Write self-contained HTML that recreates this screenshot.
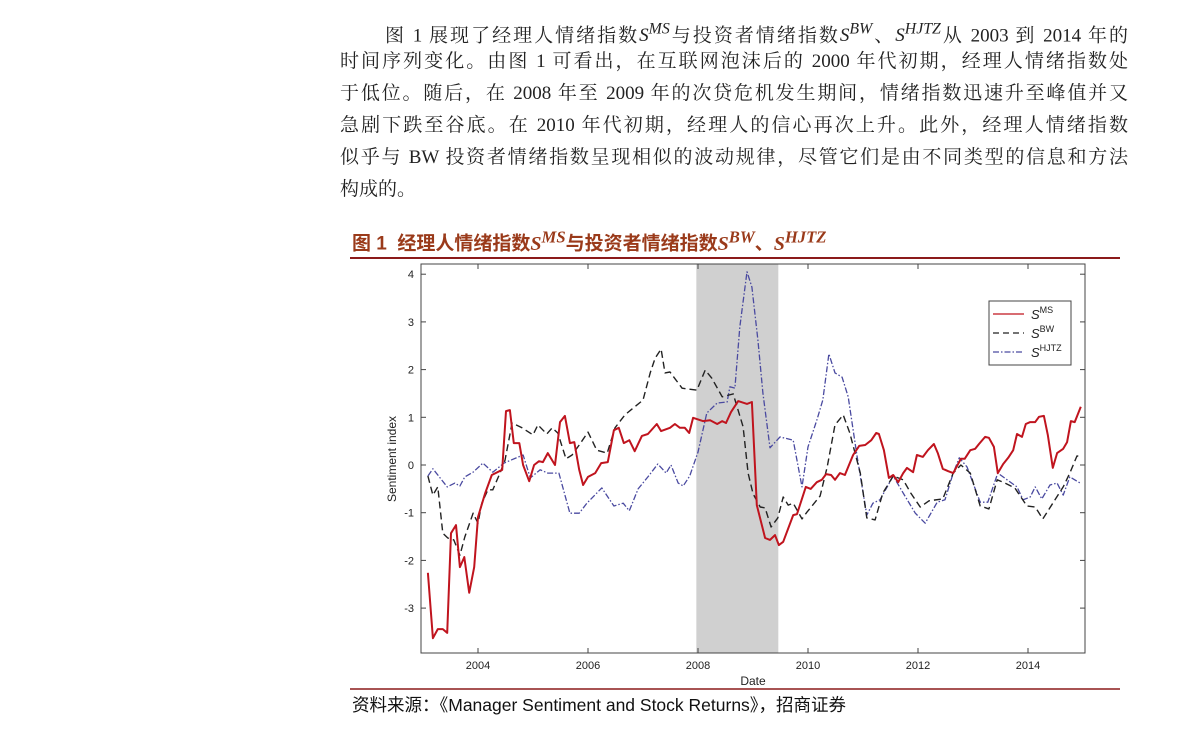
<!DOCTYPE html>
<html><head><meta charset="utf-8">
<style>
body{margin:0;width:1191px;height:732px;background:#fff;position:relative;overflow:hidden;font-family:"Liberation Serif","Noto Serif CJK SC",serif;}
.para{position:absolute;left:340px;top:14px;width:788px;font-size:19px;line-height:32px;color:#222;}
.para div{white-space:nowrap;text-align:justify;text-align-last:justify;height:32px;}
.para div.last{text-align-last:left;}
.para i{font-family:"Liberation Serif",serif;}
.title{position:absolute;left:352px;top:227px;font-size:19px;font-weight:bold;color:#9a3a1a;font-family:"Liberation Sans","Noto Sans CJK SC",sans-serif;white-space:nowrap;}
.title i{font-family:"Liberation Serif",serif;font-size:20px;}
.src{position:absolute;left:352px;top:692px;font-size:17.5px;color:#111;font-family:"Liberation Sans","Noto Sans CJK SC",sans-serif;white-space:nowrap;}
svg{position:absolute;left:0;top:0;}
</style></head><body>
<div class="para">
<div style="padding-left:45px">图 1 展现了经理人情绪指数<i>S<sup>MS</sup></i>与投资者情绪指数<i>S<sup>BW</sup></i>、<i>S<sup>HJTZ</sup></i>从 2003 到 2014 年的</div>
<div>时间序列变化。由图 1 可看出，在互联网泡沫后的 2000 年代初期，经理人情绪指数处</div>
<div>于低位。随后，在 2008 年至 2009 年的次贷危机发生期间，情绪指数迅速升至峰值并又</div>
<div>急剧下跌至谷底。在 2010 年代初期，经理人的信心再次上升。此外，经理人情绪指数</div>
<div>似乎与 BW 投资者情绪指数呈现相似的波动规律，尽管它们是由不同类型的信息和方法</div>
<div class="last">构成的。</div>
</div>
<div class="title">图 1&nbsp; 经理人情绪指数<i>S<sup>MS</sup></i>与投资者情绪指数<i>S<sup>BW</sup></i>、<i>S<sup>HJTZ</sup></i></div>
<div class="src">资料来源：《Manager Sentiment and Stock Returns》，招商证券</div>
<svg id="chart" width="1191" height="732">
<line x1="350" y1="258" x2="1120" y2="258" stroke="#8b1a1a" stroke-width="2"/>
<line x1="350" y1="689" x2="1120" y2="689" stroke="#8b1a1a" stroke-width="1.5"/>
</svg>
<script>
const msX=[2003.09,2003.18,2003.27,2003.36,2003.44,2003.51,2003.6,2003.67,2003.75,2003.84,2003.93,2004.0,2004.13,2004.25,2004.44,2004.51,2004.58,2004.65,2004.75,2004.82,2004.93,2005.02,2005.11,2005.18,2005.27,2005.4,2005.49,2005.58,2005.67,2005.75,2005.84,2005.91,2006.0,2006.13,2006.24,2006.36,2006.47,2006.56,2006.65,2006.75,2006.85,2006.98,2007.09,2007.25,2007.33,2007.49,2007.58,2007.67,2007.76,2007.84,2007.91,2008.09,2008.22,2008.35,2008.44,2008.51,2008.6,2008.73,2008.89,2008.98,2009.07,2009.22,2009.31,2009.4,2009.47,2009.55,2009.73,2009.8,2009.96,2010.05,2010.16,2010.25,2010.33,2010.42,2010.49,2010.58,2010.67,2010.82,2010.93,2011.04,2011.15,2011.24,2011.29,2011.38,2011.47,2011.55,2011.64,2011.73,2011.8,2011.91,2011.98,2012.09,2012.18,2012.29,2012.36,2012.45,2012.55,2012.64,2012.78,2012.85,2012.95,2013.04,2013.11,2013.22,2013.29,2013.38,2013.45,2013.55,2013.64,2013.73,2013.8,2013.89,2013.96,2014.04,2014.13,2014.2,2014.29,2014.36,2014.45,2014.53,2014.64,2014.71,2014.78,2014.85,2014.96];
const msY=[-2.26,-3.63,-3.44,-3.44,-3.52,-1.43,-1.26,-2.14,-1.93,-2.68,-2.14,-1.09,-0.59,-0.21,-0.1,1.13,1.15,0.46,0.46,0.0,-0.34,0,0.08,0.06,0.25,0,0.9,1.03,0.46,0.48,-0.1,-0.42,-0.25,-0.17,0.04,0.06,0.73,0.78,0.46,0.52,0.29,0.61,0.65,0.86,0.71,0.78,0.86,0.78,0.78,0.67,0.99,0.92,0.94,0.86,0.92,0.88,1.11,1.34,1.28,1.32,-0.84,-1.53,-1.57,-1.47,-1.68,-1.61,-1.05,-1.03,-0.46,-0.5,-0.36,-0.31,-0.19,-0.21,-0.31,-0.17,-0.21,0.21,0.4,0.42,0.52,0.67,0.65,0.31,-0.27,-0.21,-0.36,-0.17,-0.06,-0.15,0.21,0.17,0.31,0.44,0.25,-0.08,-0.13,-0.17,0.13,0.13,0.31,0.34,0.44,0.59,0.57,0.38,-0.17,0.02,0.15,0.31,0.65,0.59,0.86,0.9,0.9,1.01,1.03,0.63,-0.06,0.25,0.34,0.48,0.92,0.9,1.22];
const bwX=[2003.09,2003.18,2003.27,2003.36,2003.45,2003.56,2003.67,2003.76,2003.91,2004.0,2004.07,2004.18,2004.27,2004.4,2004.49,2004.62,2004.8,2005.0,2005.09,2005.25,2005.35,2005.45,2005.6,2005.71,2005.84,2006.0,2006.16,2006.35,2006.49,2006.67,2006.85,2007.0,2007.13,2007.22,2007.33,2007.4,2007.49,2007.71,2007.98,2008.13,2008.25,2008.44,2008.64,2008.82,2008.91,2009.0,2009.13,2009.22,2009.33,2009.45,2009.55,2009.64,2009.73,2009.89,2009.98,2010.22,2010.35,2010.49,2010.64,2010.76,2010.95,2011.07,2011.22,2011.36,2011.55,2011.73,2011.87,2012.04,2012.2,2012.45,2012.64,2012.78,2012.95,2013.13,2013.29,2013.44,2013.55,2013.76,2013.98,2014.13,2014.27,2014.49,2014.64,2014.76,2014.89,2014.96];
const bwY=[-0.23,-0.63,-0.46,-1.43,-1.53,-1.57,-1.89,-1.51,-1.01,-1.22,-0.8,-0.52,-0.52,-0.17,0.1,0.88,0.78,0.63,0.84,0.65,0.78,0.67,0.13,0.21,0.42,0.69,0.31,0.25,0.78,1.05,1.22,1.36,1.93,2.24,2.43,1.93,1.95,1.61,1.57,1.99,1.82,1.43,1.49,0.8,-0.17,-0.6,-0.88,-0.9,-1.3,-1.11,-0.67,-0.84,-0.8,-1.13,-0.99,-0.65,-0.04,0.84,1.05,0.67,-0.17,-1.11,-1.15,-0.59,-0.23,-0.31,-0.59,-0.88,-0.75,-0.71,-0.17,0,-0.17,-0.86,-0.92,-0.31,-0.36,-0.48,-0.86,-0.88,-1.13,-0.73,-0.46,-0.17,0.19,0.17];
const hjX=[2003.09,2003.18,2003.44,2003.58,2003.67,2003.76,2003.91,2004.09,2004.27,2004.47,2004.82,2004.95,2005.13,2005.27,2005.47,2005.67,2005.84,2005.98,2006.25,2006.47,2006.64,2006.75,2006.91,2007.09,2007.27,2007.42,2007.51,2007.64,2007.73,2007.85,2008.0,2008.16,2008.35,2008.53,2008.58,2008.67,2008.76,2008.89,2008.98,2009.09,2009.18,2009.31,2009.49,2009.73,2009.89,2010.0,2010.16,2010.27,2010.38,2010.49,2010.62,2010.73,2010.89,2011.07,2011.18,2011.31,2011.55,2011.73,2011.95,2012.13,2012.35,2012.49,2012.64,2012.75,2012.89,2013.13,2013.27,2013.45,2013.62,2013.8,2013.91,2014.04,2014.13,2014.25,2014.4,2014.53,2014.64,2014.76,2014.95];
const hjY=[-0.23,-0.08,-0.46,-0.38,-0.44,-0.25,-0.15,0.04,-0.15,0.04,0.21,-0.27,-0.1,-0.17,-0.17,-1.01,-1.01,-0.8,-0.48,-0.86,-0.8,-0.96,-0.5,-0.25,0.02,-0.17,0,-0.38,-0.44,-0.23,0.27,1.09,1.3,1.32,1.64,1.61,2.89,4.05,3.73,2.62,1.51,0.36,0.59,0.52,-0.46,0.38,0.94,1.36,2.33,1.93,1.84,1.43,0.19,-1.05,-0.8,-0.73,-0.23,-0.59,-1.01,-1.22,-0.78,-0.73,-0.17,0.15,-0.04,-0.78,-0.78,-0.17,-0.31,-0.46,-0.73,-0.67,-0.46,-0.71,-0.42,-0.38,-0.63,-0.25,-0.38];
const yTicks=[-3,-2,-1,0,1,2,3,4];
const xTicks=[2004,2006,2008,2010,2012,2014];
const recession=[2007.97,2009.46];

const L=421,R=1085,T=264,B=653;
const sx=v=>478+(v-2004)*55;
const sy=v=>465-v*47.7;
const svg=document.getElementById('chart');
const NS='http://www.w3.org/2000/svg';
function mk(tag,attrs){const e=document.createElementNS(NS,tag);for(const k in attrs)e.setAttribute(k,attrs[k]);svg.appendChild(e);return e;}
let e;
e=mk('rect',{x:L,y:T,width:R-L,height:B-T,fill:'#fff'});


e=mk('rect',{x:sx(recession[0]),y:T,width:sx(recession[1])-sx(recession[0]),height:B-T,fill:'#d0d0d0'});


function line(xs,ys,color,dash,w,name){
  const d=xs.map((x,i)=>(i?'L':'M')+sx(x).toFixed(1)+','+sy(ys[i]).toFixed(1)).join('');
  const p=mk('path',{d:d,fill:'none',stroke:color,'stroke-width':w,'stroke-dasharray':dash,'stroke-linejoin':'round'});
  
  
}
line(hjX,hjY,'#4a4aa0','6,2,1.5,2',1.3,'line-s-hjtz');
line(bwX,bwY,'#222','7,4',1.4,'line-s-bw');
line(msX,msY,'#c0141e','',2,'line-s-ms');
e=mk('rect',{x:L,y:T,width:R-L,height:B-T,fill:'none',stroke:'#444','stroke-width':1});


yTicks.forEach(v=>{
  const y=sy(v);
  mk('line',{x1:L,y1:y,x2:L+5,y2:y,stroke:'#444'});
  mk('line',{x1:R,y1:y,x2:R-5,y2:y,stroke:'#444'});
  const t=mk('text',{x:L-7,y:y+4,'text-anchor':'end','font-size':11,fill:'#222','font-family':'Liberation Sans, sans-serif'});
  t.textContent=v;
  
  
});
xTicks.forEach(v=>{
  const x=sx(v);
  mk('line',{x1:x,y1:B,x2:x,y2:B-5,stroke:'#444'});
  mk('line',{x1:x,y1:T,x2:x,y2:T+5,stroke:'#444'});
  const t=mk('text',{x:x,y:B+16,'text-anchor':'middle','font-size':11,fill:'#222','font-family':'Liberation Sans, sans-serif'});
  t.textContent=v;
  
  
});
e=mk('text',{x:753,y:685,'text-anchor':'middle','font-size':12,fill:'#222','font-family':'Liberation Sans, sans-serif'});
e.textContent='Date';


e=mk('text',{x:396,y:459,'text-anchor':'middle','font-size':12,fill:'#222','font-family':'Liberation Sans, sans-serif',transform:'rotate(-90 396 459)'});
e.textContent='Sentiment index';


e=mk('rect',{x:989,y:301,width:82,height:64,fill:'#fff',stroke:'#444'});


[['MS','#c0141e','',1.2],['BW','#222','6,4',1.2],['HJTZ','#4a4aa0','6,2,1.5,2',1.2]].forEach((it,i)=>{
  const y=314+i*19;
  mk('line',{x1:993,y1:y,x2:1024,y2:y,stroke:it[1],'stroke-width':it[3],'stroke-dasharray':it[2]});
  const t=mk('text',{x:1031,y:y+5,'font-size':13,fill:'#222','font-family':'Liberation Sans, sans-serif','font-style':'italic'});
  t.innerHTML='S<tspan dy="-6" font-size="9" font-style="normal">'+it[0]+'</tspan>';
  
  
});
</script>
</body></html>
